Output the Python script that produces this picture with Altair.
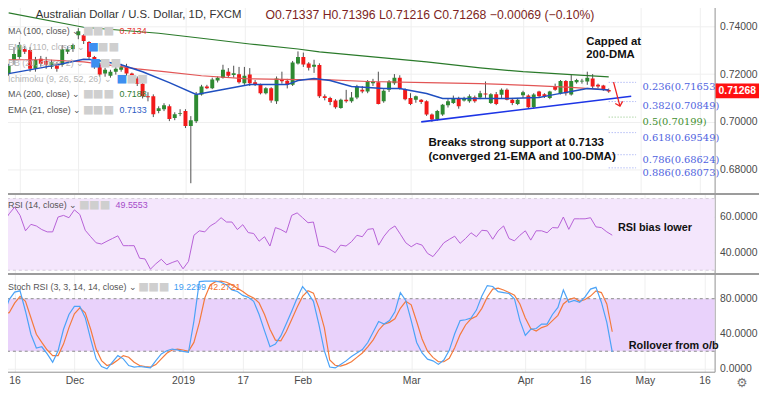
import altair as alt
import pandas as pd

# ---------------- data ----------------
opens = [0.7202, 0.7260, 0.7272, 0.7305, 0.7301, 0.7222, 0.7264, 0.7255, 0.7231, 0.7243,
         0.7239, 0.7293, 0.7305, 0.7363, 0.7363, 0.7334, 0.7272, 0.7239, 0.7202, 0.7193,
         0.7210, 0.7218, 0.7231, 0.7202, 0.7181, 0.7160, 0.7107, 0.7107, 0.7045, 0.7053,
         0.7065, 0.7016, 0.7033, 0.7045, 0.6983, 0.7003, 0.7115, 0.7148, 0.7141, 0.7173,
         0.7185, 0.7210, 0.7196, 0.7199, 0.7162, 0.7198, 0.7166, 0.7158, 0.7120, 0.7141,
         0.7086, 0.7177, 0.7172, 0.7155, 0.7244, 0.7272, 0.7244, 0.7231, 0.7238, 0.7107,
         0.7100, 0.7089, 0.7058, 0.7093, 0.7086, 0.7102, 0.7134, 0.7127, 0.7162, 0.7166,
         0.7086, 0.7134, 0.7162, 0.7185, 0.7138, 0.7100, 0.7093, 0.7093, 0.7086, 0.7031,
         0.7010, 0.7031, 0.7069, 0.7079, 0.7100, 0.7089, 0.7086, 0.7103, 0.7102, 0.7119,
         0.7079, 0.7116, 0.7113, 0.7134, 0.7093, 0.7075, 0.7111, 0.7110, 0.7061, 0.7127,
         0.7116, 0.7100, 0.7148, 0.7120, 0.7171, 0.7114, 0.7166, 0.7169, 0.7169, 0.7182,
         0.7155, 0.7152, 0.71337]
highs = [0.7243, 0.7313, 0.7334, 0.7317, 0.7313, 0.7272, 0.7276, 0.7272, 0.7260, 0.7251,
         0.7321, 0.7317, 0.7326, 0.7392, 0.7367, 0.7338, 0.7276, 0.7243, 0.7226, 0.7218,
         0.7231, 0.7243, 0.7243, 0.7206, 0.7190, 0.7169, 0.7124, 0.7115, 0.7065, 0.7078,
         0.7073, 0.7040, 0.7053, 0.7053, 0.7024, 0.7125, 0.7155, 0.7155, 0.7185, 0.7190,
         0.7239, 0.7225, 0.7235, 0.7230, 0.7230, 0.7225, 0.7175, 0.7160, 0.7145, 0.7145,
         0.7190, 0.7210, 0.7180, 0.7255, 0.7295, 0.7290, 0.7250, 0.7260, 0.7245, 0.7115,
         0.7105, 0.7095, 0.7097, 0.7134, 0.7125, 0.7155, 0.7150, 0.7175, 0.7180, 0.7210,
         0.7136, 0.7175, 0.7200, 0.7195, 0.7140, 0.7120, 0.7110, 0.7095, 0.7090, 0.7035,
         0.7050, 0.7075, 0.7095, 0.7110, 0.7105, 0.7105, 0.7115, 0.7110, 0.7130, 0.7169,
         0.7120, 0.7125, 0.7140, 0.7140, 0.7100, 0.7100, 0.7130, 0.7115, 0.7120, 0.7130,
         0.7120, 0.7130, 0.7160, 0.7175, 0.7175, 0.7196, 0.7180, 0.7180, 0.7210, 0.7200,
         0.7160, 0.7155, 0.71396]
lows = [0.7193, 0.7239, 0.7264, 0.7284, 0.7210, 0.7210, 0.7231, 0.7222, 0.7222, 0.7210,
        0.7231, 0.7284, 0.7293, 0.7346, 0.7326, 0.7264, 0.7222, 0.7189, 0.7189, 0.7185,
        0.7198, 0.7210, 0.7194, 0.7168, 0.7150, 0.7098, 0.7086, 0.7020, 0.7036, 0.7045,
        0.7003, 0.7007, 0.7024, 0.6974, 0.6743, 0.6995, 0.7110, 0.7137, 0.7137, 0.7165,
        0.7181, 0.7185, 0.7185, 0.7160, 0.7155, 0.7150, 0.7150, 0.7115, 0.7115, 0.7080,
        0.7075, 0.7160, 0.7140, 0.7150, 0.7240, 0.7230, 0.7215, 0.7205, 0.7100, 0.7090,
        0.7070, 0.7055, 0.7055, 0.7080, 0.7080, 0.7095, 0.7120, 0.7120, 0.7150, 0.7073,
        0.7080, 0.7125, 0.7155, 0.7135, 0.7090, 0.7070, 0.7080, 0.7075, 0.7025, 0.7000,
        0.7005, 0.7025, 0.7060, 0.7075, 0.7055, 0.7085, 0.7080, 0.7080, 0.7095, 0.7100,
        0.7075, 0.7070, 0.7100, 0.7090, 0.7070, 0.7070, 0.7100, 0.7055, 0.7055, 0.7100,
        0.7100, 0.7095, 0.7130, 0.7115, 0.7110, 0.7110, 0.7160, 0.7160, 0.7155, 0.7140,
        0.7140, 0.7130, 0.71216]
closes = [0.7235, 0.7284, 0.7322, 0.7293, 0.7222, 0.7260, 0.7243, 0.7239, 0.7251, 0.7222,
          0.7305, 0.7305, 0.7322, 0.7379, 0.7338, 0.7272, 0.7239, 0.7198, 0.7218, 0.7210,
          0.7222, 0.7231, 0.7202, 0.7181, 0.7160, 0.7107, 0.7103, 0.7032, 0.7057, 0.7069,
          0.7012, 0.7032, 0.7036, 0.6983, 0.7007, 0.7115, 0.7148, 0.7141, 0.7177, 0.7185,
          0.7218, 0.7193, 0.7203, 0.7166, 0.7193, 0.7162, 0.7158, 0.7120, 0.7141, 0.7089,
          0.7182, 0.7170, 0.7155, 0.7248, 0.7272, 0.7240, 0.7226, 0.7239, 0.7107, 0.7100,
          0.7083, 0.7061, 0.7093, 0.7086, 0.7102, 0.7148, 0.7127, 0.7171, 0.7169, 0.7075,
          0.7130, 0.7169, 0.7185, 0.7141, 0.7095, 0.7075, 0.7107, 0.7083, 0.7031, 0.7010,
          0.7045, 0.7072, 0.7086, 0.7100, 0.7065, 0.7100, 0.7107, 0.7086, 0.7120, 0.7115,
          0.7116, 0.7075, 0.7134, 0.7093, 0.7079, 0.7093, 0.7124, 0.7061, 0.7114, 0.7107,
          0.7107, 0.7127, 0.7134, 0.7171, 0.7120, 0.7171, 0.7175, 0.7172, 0.7185, 0.7148,
          0.7148, 0.7134, 0.71268]

rsi_vals = [56.9, 61.5, 65.2, 60.6, 52.0, 55.6, 54.7, 52.7, 51.4, 51.4,
            59.7, 60.6, 59.3, 63.7, 61.1, 52.3, 48.7, 45.3, 44.6, 46.2,
            47.7, 49.2, 43.7, 43.7, 43.7, 36.7, 36.3, 30.6, 33.6, 36.1,
            33.0, 34.3, 35.4, 30.8, 34.9, 49.5, 52.0, 51.4, 54.7, 56.5,
            59.3, 56.9, 56.9, 52.7, 55.4, 51.0, 50.5, 46.2, 48.7, 43.5,
            53.8, 52.7, 51.0, 60.6, 62.0, 59.3, 56.5, 56.9, 43.5, 43.1,
            41.7, 39.8, 44.0, 43.5, 45.9, 49.5, 48.7, 52.8, 53.2, 44.0,
            49.0, 52.7, 54.7, 50.1, 45.3, 43.1, 45.0, 44.0, 39.4, 37.6,
            41.3, 45.3, 47.2, 49.0, 45.0, 47.7, 50.9, 48.7, 52.3, 52.0,
            47.3, 52.0, 54.7, 47.7, 46.4, 49.5, 52.0, 46.8, 52.0, 52.0,
            50.9, 53.8, 53.6, 59.7, 52.8, 58.7, 58.7, 58.7, 59.3, 54.2,
            53.8, 51.4, 49.5553]

stoch_k = [62, 79, 87.5, 89, 65.7, 39.4, 23.7, 25.1, 16.9, 7.5,
           20.6, 45.1, 62, 71.3, 71.3, 58.3, 33.8, 11.3, 2.6, 0,
           7.5, 15, 11.3, 3.7, 1.9, 2.6, 1.9, 1.1, 9.3, 16.9,
           20.6, 22.5, 21.4, 19.9, 18.8, 54.4, 99.5, 100, 100, 100,
           98.8, 95.8, 90.1, 88.3, 83.8, 81.5, 77, 62, 43.2, 25.1,
           28.2, 37.5, 51.5, 65.7, 80.8, 93.9, 86.4, 77, 50.7, 20.6,
           2, 1, 5, 9, 14, 18, 22, 30, 42, 54,
           51, 55, 65, 87, 78, 55, 30, 18, 11, 9,
           5, 10, 21, 40, 55, 56, 58, 67, 83, 95,
           94, 88, 87, 86, 80, 55, 38, 45, 46, 51,
           51, 62, 70, 90, 76, 78, 76, 82, 91, 93,
           76, 53, 19.2299]
stoch_d = [63, 64, 75, 82.6, 77, 58.3, 39.4, 30.1, 21.4, 15,
           15, 28.2, 47, 62.8, 69.5, 63.9, 45.1, 22.5, 9.3, 3.7,
           5.6, 10.1, 15, 13.2, 7.5, 3.7, 2.6, 1.9, 4.8, 11.3,
           17.7, 21.4, 22.5, 21.4, 19.9, 30.1, 52.6, 80.8, 95.8, 99.5,
           100, 98.8, 95.8, 92, 88.3, 83.8, 80.8, 75.2, 62, 45.1,
           32.7, 31.9, 42.5, 56.3, 70.2, 82.6, 89, 86.4, 69.5, 47,
           10, 4, 3, 5, 8, 13, 18, 25, 33, 44,
           51, 53, 57, 69, 77, 73, 54, 34, 20, 13,
           8, 8, 12, 24, 39, 50, 57, 60, 69, 82,
           91, 92, 90, 87, 84, 74, 58, 46, 43, 47,
           49, 55, 61, 74, 79, 81, 77, 79, 83, 89,
           87, 74, 42.2721]

ma200_idx = [0, 14, 28, 36, 45, 54, 58, 68, 78, 88, 96, 105, 112]
ma200_val = [0.7456, 0.7396, 0.7371, 0.7350, 0.7326, 0.7305, 0.7293, 0.7272, 0.7251,
             0.7226, 0.7210, 0.7198, 0.7188]
ma100_idx = [0, 7, 14, 21, 24, 29, 36, 44, 54, 59, 67, 78, 88, 98, 105, 112]
ma100_val = [0.7260, 0.7260, 0.7251, 0.7231, 0.7222, 0.7210, 0.7193, 0.7181, 0.7177,
             0.7177, 0.7169, 0.7164, 0.7160, 0.7152, 0.7144, 0.7134]
ema21_idx = [0, 6, 10, 14, 16, 21, 25, 30, 35, 38, 41, 45, 52, 54, 57, 60, 64, 70, 73,
             78, 81, 88, 93, 99, 102, 105, 108, 112]
ema21_val = [0.7202, 0.7226, 0.7243, 0.7262, 0.7260, 0.7239, 0.7210, 0.7164, 0.7115,
             0.7127, 0.7140, 0.7156, 0.7156, 0.7173, 0.7181, 0.7173, 0.7148, 0.7140,
             0.7140, 0.7119, 0.7098, 0.7098, 0.7098, 0.7102, 0.7115, 0.7127, 0.7140,
             0.7133]

trend_idx = [77, 116.2]
trend_val = [0.7000, 0.7107]

fib_ratio = ["0.236", "0.382", "0.5", "0.618", "0.786", "0.886"]
fib_level = [0.71653, 0.70849, 0.70199, 0.69549, 0.68624, 0.68073]

tick_dates = ["2018-11-16", "2018-12-03", "2019-01-02", "2019-01-17", "2019-02-01",
              "2019-03-01", "2019-04-01", "2019-04-16", "2019-05-01", "2019-05-16"]
tick_labels = ["16", "Dec", "2019", "17", "Feb", "Mar", "Apr", "16", "May", "16"]

price_ticks = [0.68, 0.69, 0.70, 0.71, 0.72, 0.73, 0.74]

# ---------------- build tables ----------------
holidays = {"2018-12-25", "2019-01-01"}
bars = [d.strftime("%Y-%m-%d") for d in pd.bdate_range("2018-11-14", "2019-05-20")
        if d.strftime("%Y-%m-%d") not in holidays]
pos = {d: k for k, d in enumerate(bars)}
tick_idx = [pos[d] for d in tick_dates]

n = len(closes)
candles = pd.DataFrame({"i": list(range(n)), "o": opens, "h": highs, "l": lows, "c": closes})
candles["dir"] = ["up" if c >= o else "down" for o, c in zip(opens, closes)]
osc = pd.DataFrame({"i": list(range(n)), "rsi": rsi_vals, "k": stoch_k, "d": stoch_d})
ma200 = pd.DataFrame({"i": ma200_idx, "v": ma200_val})
ma100 = pd.DataFrame({"i": ma100_idx, "v": ma100_val})
ema21 = pd.DataFrame({"i": ema21_idx, "v": ema21_val})
trend = pd.DataFrame({"i": trend_idx, "v": trend_val})
fib = pd.DataFrame({"level": fib_level,
                    "txt": [f"{r}({v:.5f})" for r, v in zip(fib_ratio, fib_level)],
                    "kind": ["mid" if r == "0.5" else "std" for r in fib_ratio]})
one = pd.DataFrame({"a": [0]})

label_expr = " : ".join(f"datum.value == {v} ? '{t}'" for v, t in zip(tick_idx, tick_labels)) + " : ''"

# ---------------- styling ----------------
W = 723
FONT = "Liberation Sans"
GRID = "#efefef"
AXCOL = "#8f8f8f"
XDOM = [-0.49, 130.84]
LEG = 9

def xenc(show_labels=False):
    if show_labels:
        ax = alt.Axis(values=tick_idx, grid=True, gridColor=GRID, ticks=False,
                      domain=True, domainColor=AXCOL, labels=True, labelExpr=label_expr,
                      labelFont=FONT, labelFontSize=10.5, labelColor="#4a4a4a",
                      labelPadding=4, title=None)
    else:
        ax = alt.Axis(values=tick_idx, grid=True, gridColor=GRID, ticks=False, domain=False,
                      labels=False, title=None)
    return alt.X("i:Q", scale=alt.Scale(domain=XDOM, nice=False, zero=False), axis=ax)

def yaxis(values, fmt, grid_color=GRID):
    return alt.Axis(orient="right", values=values, format=fmt, grid=True, gridColor=grid_color,
                    ticks=False, domainColor=AXCOL, labelFont=FONT, labelFontSize=10.5,
                    labelColor="#4a4a4a", labelPadding=5, title=None)

def text(t, x, y, color="#333333", size=LEG, weight="normal", align="left", font=FONT):
    return alt.Chart(one).mark_text(text=t, align=align, baseline="middle", fontSize=size,
                                    fontWeight=weight, color=color, font=font).encode(
        x=alt.value(x), y=alt.value(y))

def icons(x, y, first="#cfcfcf"):
    return [text("■", x, y, color=first, size=11.5, font="DejaVu Sans"),
            text("■■", x + 10, y, color="#cfcfcf", size=11.5, font="DejaVu Sans")]

def separator():
    return alt.Chart(one).mark_rule(color="#9c9c9c", strokeWidth=2).encode(
        x=alt.value(0), x2=alt.value(768), y=alt.value(0))

# ---------------- price panel ----------------
PDOM = [0.67017, 0.74992]
pscale = alt.Scale(domain=PDOM, nice=False, zero=False)

wicks = alt.Chart(candles).mark_rule(color="#4d4d4d", strokeWidth=1, clip=True).encode(
    x=xenc(), y=alt.Y("l:Q", scale=pscale, axis=yaxis(price_ticks, ".5f")), y2="h:Q")
bodies = alt.Chart(candles).mark_bar(size=4, clip=True).encode(
    x="i:Q", y=alt.Y("o:Q", scale=pscale), y2="c:Q",
    color=alt.Color("dir:N", scale=alt.Scale(domain=["up", "down"], range=["#2e8a32", "#f21a1a"]),
                    legend=None))

def ma_line(df, color, width):
    return alt.Chart(df).mark_line(color=color, strokeWidth=width).encode(
        x="i:Q", y=alt.Y("v:Q", scale=pscale))

l200 = ma_line(ma200, "#2a7a2a", 1.2)
l100 = ma_line(ma100, "#e25555", 1.2)
l21 = ma_line(ema21, "#1f4fc0", 1.5)
trend_line = alt.Chart(trend).mark_line(color="#1d35e6", strokeWidth=1.6).encode(
    x="i:Q", y=alt.Y("v:Q", scale=pscale))

def fib_layers(kind, line_color, text_color):
    base = alt.Chart(fib).transform_filter(alt.datum.kind == kind)
    rules = base.mark_rule(strokeDash=[1, 2], strokeWidth=1, color=line_color).encode(
        x=alt.datum(112), x2=alt.datum(117.1), y=alt.Y("level:Q", scale=pscale))
    labels = base.mark_text(align="left", baseline="middle", fontSize=10, dy=5,
                            font="DejaVu Serif", color=text_color).encode(
        x=alt.value(650), y=alt.Y("level:Q", scale=pscale), text="txt:N")
    return [rules, labels]

fibs = fib_layers("std", "#8f9cf2", "#4f63e0") + fib_layers("mid", "#86c079", "#3f8f2f")

arrow_shaft = alt.Chart(one).mark_rule(color="#ee2222", strokeWidth=1.3).encode(
    x=alt.datum(112.9), x2=alt.datum(114.1), y=alt.datum(0.7166), y2=alt.datum(0.7066))
arrow_head = alt.Chart(one).mark_point(shape="M-1,-1L0,0L1,-1", filled=False, color="#ee2222",
                                       size=60, strokeWidth=1.3, angle=344, opacity=1).encode(
    x=alt.datum(114.1), y=alt.datum(0.7066))

price_box = alt.Chart(one).mark_rect(color="#ff1111").encode(
    x=alt.value(724), x2=alt.value(768), y=alt.value(82), y2=alt.value(97))
price_txt = text("0.71268", 746, 89.5, color="white", size=10.5, weight="bold", align="center")

header = [
    text("Australian Dollar / U.S. Dollar, 1D, FXCM", 35, 13, color="#333333", size=11.5),
    text("O0.71337  H0.71396  L0.71216  C0.71268  −0.00069 (−0.10%)", 268, 13,
         color="#7d1f22", size=12.4),
    text("MA (100, close) ⌄", 7, 29, color="#555555"),
    *icons(83, 29),
    text("0.7134", 120, 29, color="#e53935"),
    text("EMA (110, close) ⌄", 7, 45, color="#b5b5b5"),
    *icons(88, 45, "#3d8ff0"),
    text("BB (20, close, 2) ⌄", 7, 61, color="#b5b5b5"),
    *icons(90, 61, "#3d8ff0"),
    text("Ichimoku (9, 26, 52, 26) ⌄", 7, 77, color="#b5b5b5"),
    *icons(117, 77, "#3d8ff0"),
    text("MA (200, close) ⌄", 7, 93, color="#555555"),
    *icons(83, 93),
    text("0.7188", 120, 93, color="#2e7d32"),
    text("EMA (21, close) ⌄", 7, 109, color="#555555"),
    *icons(83, 109),
    text("0.7133", 120, 109, color="#2a5bc4"),
    text("Capped at", 593, 40, color="#111111", size=11.5, weight="bold"),
    text("200-DMA", 593, 53, color="#111111", size=11.5, weight="bold"),
    text("Breaks strong support at 0.7133", 433, 141, color="#111111", size=11.7, weight="bold"),
    text("(converged 21-EMA and 100-DMA)", 433, 155, color="#111111", size=11.7, weight="bold"),
]

price = alt.layer(wicks, bodies, l200, l100, l21, trend_line, *fibs,
                  arrow_shaft, arrow_head, price_box, price_txt, *header).properties(
    width=W, height=193)

# ---------------- RSI panel ----------------
rscale = alt.Scale(domain=[28.43, 72.5], nice=False, zero=False)
r_band = alt.Chart(one).mark_rect(color="#f4e6fc").encode(
    x=alt.value(0), x2=alt.value(W), y=alt.datum(70), y2=alt.datum(30))
r_line = alt.Chart(osc).mark_line(color="#b660d6", strokeWidth=1).encode(
    x=xenc(), y=alt.Y("rsi:Q", scale=rscale, axis=yaxis([40, 60], ".4f", "#e6dcec")))
r_dash = [alt.Chart(one).mark_rule(color="#d4cbd9", strokeDash=[3, 3]).encode(y=alt.datum(v))
          for v in (70, 30)]
rsi = alt.layer(r_band, *r_dash, r_line,
                text("RSI (14, close) ⌄", 7, 11, color="#555555"),
                *icons(79, 11),
                text("49.5553", 116, 11, color="#a54bc9"),
                text("RSI bias lower", 625, 34, color="#111111", size=11, weight="bold"),
                separator(),
                ).properties(width=W, height=80)

# ---------------- Stoch RSI panel ----------------
sscale = alt.Scale(domain=[-3.38, 108.2], nice=False, zero=False)
s_band = alt.Chart(one).mark_rect(color="#e9d2fb").encode(
    x=alt.value(0), x2=alt.value(W), y=alt.datum(80), y2=alt.datum(20))
s_dash = [alt.Chart(one).mark_rule(color="#8a8a8a", strokeDash=[3, 3]).encode(y=alt.datum(v))
          for v in (80, 20)]
k_line = alt.Chart(osc).mark_line(color="#4ba3f7", strokeWidth=1.2).encode(
    x=xenc(True), y=alt.Y("k:Q", scale=sscale, axis=yaxis([0, 40, 80], ".4f")))
d_line = alt.Chart(osc).mark_line(color="#f47a3c", strokeWidth=1.2).encode(
    x="i:Q", y=alt.Y("d:Q", scale=sscale))
stoch = alt.layer(s_band, *s_dash, d_line, k_line,
                  text("Stoch RSI (3, 3, 14, 14, close) ⌄", 7, 13, color="#555555"),
                  *icons(139, 13),
                  text("19.2299", 175, 13, color="#3d9cf2"),
                  text("42.2721", 210, 13, color="#f2702c"),
                  text("Rollover from o/b", 636, 73, color="#111111", size=11, weight="bold"),
                  text("⚙", 745, 110, color="#777777", size=13, font="DejaVu Sans"),
                  separator(),
                  ).properties(width=W, height=99)

chart = alt.vconcat(price, rsi, stoch, spacing=0).properties(
    padding={"left": -8, "top": -8, "right": 0, "bottom": 0}
).configure_view(stroke=None).configure_axis(domainWidth=1)

chart.save("out.html", embed_options={"renderer": "svg", "actions": False})
